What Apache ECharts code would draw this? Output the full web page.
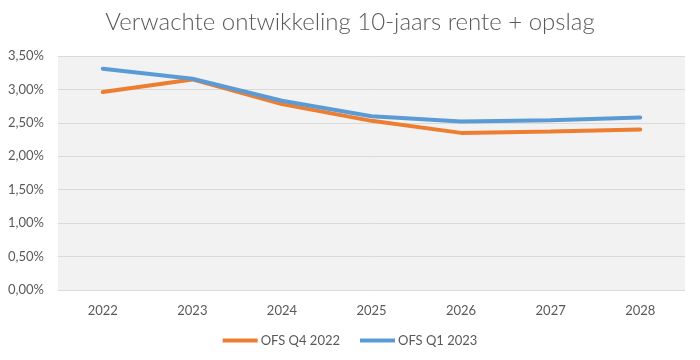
<!DOCTYPE html>
<html><head><meta charset="utf-8">
<script src="https://cdn.jsdelivr.net/npm/echarts@6/dist/echarts.min.js"></script>
<style>html,body{margin:0;padding:0;background:#fff}#c{width:700px;height:360px}</style>
</head><body><div id="c"></div>
<script>
const categories = ['2022','2023','2024','2025','2026','2027','2028'];
const ofsQ42022 = [2.96, 3.15, 2.78, 2.53, 2.35, 2.37, 2.40];
const ofsQ12023 = [3.31, 3.16, 2.83, 2.60, 2.52, 2.54, 2.58];
const yTicks = [0, 0.5, 1, 1.5, 2, 2.5, 3, 3.5];

const font = 'Lato, "Open Sans", sans-serif';
const chart = echarts.init(document.getElementById('c'));
chart.setOption({
  animation: false,
  title: {text: 'Verwachte ontwikkeling 10-jaars rente + opslag', left: 'center', top: 5,
    textStyle: {fontFamily: font, fontSize: 24, fontWeight: 300, color: '#595959'}},
  grid: {left: 58, right: 15, top: 56, bottom: 70, show: true, backgroundColor: '#f2f2f2', borderWidth: 0},
  legend: {bottom: 8, left: 'center', icon: 'rect', itemWidth: 35, itemHeight: 4, itemGap: 20,
    textStyle: {fontFamily: font, fontSize: 13, color: '#595959', padding: [0, 0, 0, -2]},
    data: ['OFS Q4 2022','OFS Q1 2023']},
  xAxis: {type: 'category', data: categories, boundaryGap: true,
    axisLine: {show: false}, axisTick: {show: false},
    axisLabel: {fontFamily: font, fontSize: 13, color: '#595959', margin: 14}},
  yAxis: {type: 'value', min: yTicks[0], max: yTicks[yTicks.length-1], interval: 0.5,
    axisLine: {show: false}, axisTick: {show: false},
    splitLine: {lineStyle: {color: '#d9d9d9', width: 1}},
    axisLabel: {fontFamily: font, fontSize: 13, color: '#595959', margin: 14,
      formatter: v => v.toFixed(2).replace('.', ',') + '%'}},
  series: [
    {name: 'OFS Q4 2022', type: 'line', data: ofsQ42022, symbol: 'none', color: '#ED7D31',
      lineStyle: {width: 4, color: '#ED7D31', cap: 'round'}},
    {name: 'OFS Q1 2023', type: 'line', data: ofsQ12023, symbol: 'none', color: '#5B9BD5',
      lineStyle: {width: 4, color: '#5B9BD5', cap: 'round'}}
  ]
});
</script></body></html>
